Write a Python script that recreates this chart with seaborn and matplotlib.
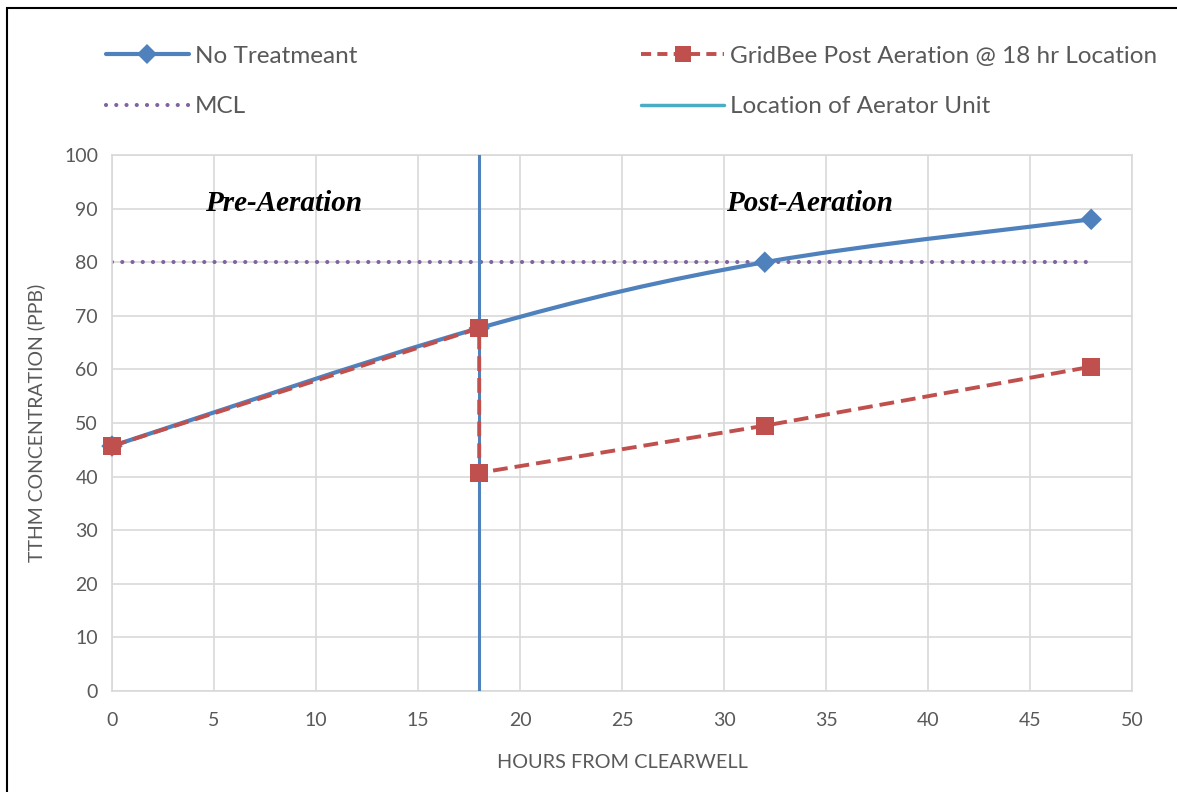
import numpy as np
import pandas as pd
import matplotlib
matplotlib.use("Agg")
import matplotlib.pyplot as plt
import seaborn as sns
from matplotlib.path import Path
from matplotlib.patches import PathPatch, Rectangle
from matplotlib.lines import Line2D

# ---- data ----
hours_nt = [0, 18, 32, 48]
tthm_nt = [45.7, 67.7, 80.0, 88.0]
hours_gb = [0, 18, 18, 32, 48]
tthm_gb = [45.7, 67.7, 40.7, 49.5, 60.5]
mcl_x = [0, 48]
mcl_y = [80, 80]
aerator_x = 18
x_ticks = [0, 5, 10, 15, 20, 25, 30, 35, 40, 45, 50]
y_ticks = [0, 10, 20, 30, 40, 50, 60, 70, 80, 90, 100]

BLUE = "#4F81BD"
RED = "#C0504D"
PURPLE = "#8064A2"
LBLUE = "#4BACC6"
GRAY = "#595959"
GRID = "#D9D9D9"

sns.set_theme(style="white")
plt.rcParams["font.family"] = ["Lato", "DejaVu Sans"]

fig = plt.figure(figsize=(11.77, 7.92), dpi=100)
ax = fig.add_axes([112/1177, 1-691/792, 1020/1177, 536/792])

# grid
ax.set_xlim(0, 50)
ax.set_ylim(0, 100)
ax.set_xticks(x_ticks)
ax.set_yticks(y_ticks)
ax.grid(True, color=GRID, lw=1.2)
for s in ax.spines.values():
    s.set_color(GRID)
    s.set_linewidth(1.2)
ax.tick_params(axis="both", length=0, labelsize=14, labelcolor=GRAY)
ax.tick_params(axis="x", pad=15)
ax.tick_params(axis="y", pad=10)

# MCL
df_mcl = pd.DataFrame({"x": mcl_x, "y": mcl_y})
sns.lineplot(data=df_mcl, x="x", y="y", ax=ax, color=PURPLE, lw=3.0,
             linestyle=(0, (0.01, 2.45)), zorder=2)
ax.lines[-1].set_dash_capstyle("round")

# aerator location
ax.axvline(aerator_x, color=BLUE, lw=2.2, zorder=3)

# No treatment: smooth curve (Excel-style) through points
pts = np.column_stack([hours_nt, tthm_nt])
ext = np.vstack([pts[0], pts, pts[-1]])
verts = [tuple(pts[0])]
codes = [Path.MOVETO]
for i in range(len(pts) - 1):
    p0, p1, p2, p3 = ext[i], ext[i+1], ext[i+2], ext[i+3]
    c1 = p1 + (p2 - p0) / 6
    c2 = p2 - (p3 - p1) / 6
    verts += [tuple(c1), tuple(c2), tuple(p2)]
    codes += [Path.CURVE4] * 3
ax.add_patch(PathPatch(Path(verts, codes), fill=False, edgecolor=BLUE,
                       lw=3.0, capstyle="round", zorder=4))
df_nt = pd.DataFrame({"x": hours_nt, "y": tthm_nt})
sns.scatterplot(data=df_nt, x="x", y="y", ax=ax, marker="D", s=120,
                color=BLUE, edgecolor="none", zorder=5, clip_on=False)

# GridBee
df_gb = pd.DataFrame({"x": hours_gb, "y": tthm_gb})
sns.lineplot(data=df_gb, x="x", y="y", ax=ax, sort=False, estimator=None,
             color=RED, lw=2.8, linestyle=(0, (3.8, 1.8)), marker="s",
             markersize=12.5, markeredgewidth=0, zorder=6)
ax.lines[-1].set_clip_on(False)

# text annotations
ax.text(8.4, 91, "Pre-Aeration", fontsize=21, fontweight="bold", fontstyle="italic",
        family="Liberation Serif", ha="center", va="center", color="black")
ax.text(34.2, 91, "Post-Aeration", fontsize=21, fontweight="bold", fontstyle="italic",
        family="Liberation Serif", ha="center", va="center", color="black")

ax.set_xlabel("HOURS FROM CLEARWELL", fontsize=14.3, color=GRAY, labelpad=18)
ax.set_ylabel("TTHM CONCENTRATION (PPB)", fontsize=14, color=GRAY, labelpad=14)

# legend
handles = [
    Line2D([], [], color=BLUE, lw=3, marker="D", markersize=10, markeredgewidth=0),
    Line2D([], [], color=PURPLE, lw=3.0, linestyle=(0, (0.01, 2.45)), dash_capstyle="round"),
    Line2D([], [], color=RED, lw=2.8, linestyle=(0, (2.6, 1.6)), marker="s",
           markersize=12, markeredgewidth=0),
    Line2D([], [], color=LBLUE, lw=2.5),
]
labels = ["No Treatmeant", "MCL", "GridBee Post Aeration @ 18 hr Location",
          "Location of Aerator Unit"]
leg = fig.legend(handles, labels, ncol=2, loc="upper left",
                 bbox_to_anchor=(84/1177, 1-24/792), frameon=False,
                 fontsize=17.5, handlelength=3.4, handletextpad=0.25,
                 columnspacing=11.7, labelspacing=1.2, labelcolor=GRAY)

# figure border
fig.patches.append(Rectangle((7/1177, -0.05), 1.1, 1.05 - 8/792,
                             transform=fig.transFigure, fill=False,
                             edgecolor="black", lw=1.5))

fig.savefig("out.png", dpi=100)
